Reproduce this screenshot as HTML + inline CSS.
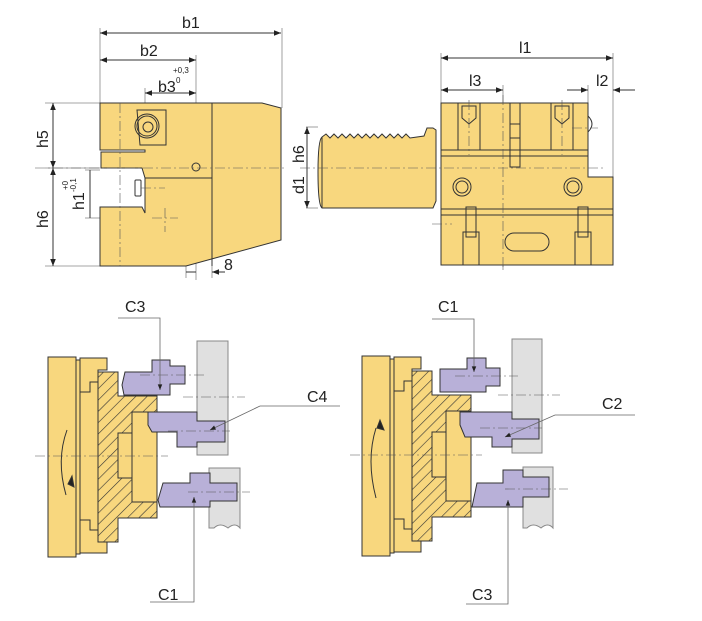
<!DOCTYPE html>
<html><head><meta charset="utf-8"><style>
html,body{margin:0;padding:0;background:#fff}
svg{display:block}
text{font-family:"Liberation Sans",Arial,sans-serif;fill:#222}
</style></head><body>
<svg width="702" height="621" viewBox="0 0 702 621" xmlns="http://www.w3.org/2000/svg">
<defs>
<pattern id="h" width="8" height="8" patternUnits="userSpaceOnUse" patternTransform="rotate(45)">
<rect width="8" height="8" fill="#f8d77e"/><line x1="0" y1="0" x2="0" y2="8" stroke="#333" stroke-width="1.2"/>
</pattern>
<marker id="a" viewBox="0 0 10 10" refX="10" refY="5" markerWidth="12" markerHeight="7" orient="auto-start-reverse"><path d="M0,1 L10,5 L0,9 z" fill="#222"/></marker>
</defs>
<g stroke="#333" stroke-width="1" fill="none">
<g stroke="#888" stroke-width="0.8">
<line x1="100" y1="28" x2="100" y2="103"/><line x1="282" y1="28" x2="282" y2="108"/>
<line x1="196" y1="55" x2="196" y2="280"/><line x1="145" y1="88" x2="145" y2="110"/>
<line x1="45" y1="103" x2="100" y2="103"/><line x1="45" y1="266" x2="100" y2="266"/>
<line x1="45" y1="168" x2="100" y2="168"/><line x1="85" y1="170" x2="100" y2="170"/><line x1="85" y1="218" x2="100" y2="218"/>
<line x1="186" y1="266" x2="186" y2="278"/><line x1="212" y1="266" x2="212" y2="278"/>
</g>
<line x1="100" y1="33" x2="281" y2="33" marker-start="url(#a)" marker-end="url(#a)"/>
<line x1="100" y1="60" x2="196" y2="60" marker-start="url(#a)" marker-end="url(#a)"/>
<line x1="145" y1="93" x2="196" y2="93" marker-start="url(#a)" marker-end="url(#a)"/>
<line x1="53" y1="103" x2="53" y2="168" marker-start="url(#a)" marker-end="url(#a)"/>
<line x1="53" y1="168" x2="53" y2="266" marker-start="url(#a)" marker-end="url(#a)"/>
<line x1="90" y1="170" x2="90" y2="218"/>
<line x1="186" y1="272" x2="196" y2="272"/><line x1="225" y1="272" x2="212" y2="272" marker-end="url(#a)"/>
<path d="M100,103 H262 L281,108 V240 L186,266 H100 V207 H142 L145,213 V178 L142,168 H101 V152 H145 V150 H100 Z" fill="#f8d77e"/>
<line x1="212" y1="103" x2="212" y2="266"/>
<line x1="145" y1="178" x2="212" y2="178"/>
<path d="M137,110 H166 V145 H140 Z"/>
<circle cx="147" cy="126" r="12"/><circle cx="147" cy="126" r="10"/><circle cx="148" cy="127" r="5"/>
<circle cx="196" cy="167" r="4"/>
<rect x="135" y="180" width="6" height="16" rx="1"/>
<g stroke="#555" stroke-width="0.6" stroke-dasharray="10,3,2,3">
<line x1="120" y1="103" x2="120" y2="266"/><line x1="35" y1="168" x2="285" y2="168"/>
<line x1="141" y1="188" x2="165" y2="188"/><line x1="152" y1="218" x2="178" y2="218"/><line x1="165" y1="208" x2="165" y2="232"/>
</g>
<g stroke="#888" stroke-width="0.8">
<line x1="441" y1="53" x2="441" y2="103"/><line x1="613" y1="53" x2="613" y2="177"/>
<line x1="503" y1="85" x2="503" y2="270"/><line x1="588" y1="85" x2="588" y2="103"/>
<line x1="306" y1="127" x2="318" y2="127"/><line x1="306" y1="208" x2="318" y2="208"/>
</g>
<line x1="441" y1="58" x2="613" y2="58" marker-start="url(#a)" marker-end="url(#a)"/>
<line x1="441" y1="90" x2="503" y2="90" marker-start="url(#a)" marker-end="url(#a)"/>
<line x1="567" y1="90" x2="588" y2="90" marker-end="url(#a)"/>
<line x1="635" y1="90" x2="613" y2="90" marker-end="url(#a)"/>
<line x1="307" y1="127" x2="307" y2="208" marker-start="url(#a)" marker-end="url(#a)"/>
<path d="M322,137 L326,134 L330,138 L334,134 L338,138 L342,134 L346,138 L350,134 L354,138 L358,134 L362,138 L366,134 L370,138 L374,134 L378,138 L382,134 L386,138 L390,134 L394,138 L398,134 L402,138 L406,134 L410,138 L424,136 L427,128 L433,128 L436,130 V201 L433,208 H322 Q318,205 318,172 Q318,140 322,137 Z" fill="#f8d77e"/>
<line x1="322" y1="137" x2="322" y2="208"/>
<path d="M441,103 H588 V177 H613 V265 H441 Z" fill="#f8d77e"/>
<line x1="441" y1="150" x2="588" y2="150"/><line x1="441" y1="156" x2="588" y2="156"/>
<line x1="441" y1="209" x2="613" y2="209"/><line x1="441" y1="215" x2="613" y2="215"/>
<rect x="458" y="103" width="22" height="47"/><path d="M462,106 H476 V118 L469,124 L462,118 Z"/>
<rect x="551" y="103" width="22" height="47"/><path d="M555,106 H569 V118 L562,124 L555,118 Z"/>
<rect x="510" y="103" width="10" height="64"/><rect x="510" y="124" width="10" height="14"/>
<path d="M588,116 Q596,124 588,132"/>
<circle cx="462" cy="187" r="9"/><circle cx="462" cy="187" r="6"/>
<circle cx="573" cy="187" r="9"/><circle cx="573" cy="187" r="6"/>
<rect x="466" y="207" width="10" height="30"/><rect x="463" y="232" width="16" height="33"/>
<rect x="578" y="207" width="10" height="30"/><rect x="575" y="232" width="16" height="33"/>
<rect x="505" y="233" width="44" height="18" rx="9"/>
<g stroke="#555" stroke-width="0.6" stroke-dasharray="10,3,2,3">
<line x1="300" y1="168" x2="605" y2="168"/><line x1="503" y1="95" x2="503" y2="270"/>
<line x1="432" y1="224" x2="452" y2="224"/><line x1="572" y1="128" x2="598" y2="128"/>
<line x1="469" y1="100" x2="469" y2="155"/><line x1="562" y1="100" x2="562" y2="155"/>
</g>
<g id="chuck">
<rect x="48" y="357" width="28" height="200" fill="#f8d77e"/>
<rect x="76" y="360" width="4" height="194" fill="#f8d77e"/>
<path d="M80,358 H107 V370 H98 V540 H107 V553 H80 Z" fill="#f8d77e"/>
<path d="M80,392 H90 V382 H98 M80,520 H90 V530 H98"/>
<path d="M98,372 H118 V396 H157 V518 H118 V542 H98 Z" fill="url(#h)"/>
<path d="M132,412 H157 V502 H132 V478 H118 V433 H132 Z" fill="#f8d77e"/>
<line x1="132" y1="433" x2="132" y2="478"/>
</g>
<use href="#chuck" x="314" y="-1"/>
<path d="M67,430 Q56,460 66,495" stroke="#333"/><path d="M68,484 L72,476 L74,487 Z" fill="#222"/>
<path d="M376,428 Q366,460 376,498" stroke="#333"/><path d="M380,420 L384,430 L377,428 Z" fill="#222"/>
<g fill="#e0e0e0" stroke="#888">
<rect x="197" y="341" width="31" height="114"/>
<path d="M209,468 H240 V528 Q235,522 228,528 Q220,522 214,528 H209 Z"/>
<rect x="512" y="339" width="30" height="114"/>
<path d="M523,467 H553 V528 Q548,522 541,528 Q533,522 527,528 H523 Z"/>
</g>
<g fill="#b8b0d8" stroke="#333">
<path d="M125,372 H152 V360 H170 V366 H185 V384 H170 V395 H124 L122,385 Z"/>
<path d="M148,412 H197 V421 H225 V442 H197 V447 H177 V432 H152 L148,425 Z"/>
<path d="M163,483 H190 V473 H210 V483 H237 V501 H210 V507 H160 L158,500 Z"/>
<path d="M440,369 H467 V358 H486 V368 H500 V386 H486 V392 H440 Z"/>
<path d="M460,412 H512 V419 H539 V439 H512 V447 H492 V437 H465 L460,425 Z"/>
<path d="M477,483 H503 V470 H523 V477 H549 V497 H523 V507 H472 Z"/>
</g>
<g stroke="#555" stroke-width="0.6" stroke-dasharray="10,3,2,3">
<line x1="35" y1="456" x2="168" y2="456"/><line x1="350" y1="455" x2="482" y2="455"/>
<line x1="140" y1="375" x2="205" y2="375"/><line x1="183" y1="397" x2="245" y2="397"/>
<line x1="168" y1="431" x2="230" y2="431"/><line x1="188" y1="492" x2="250" y2="492"/>
<line x1="455" y1="376" x2="518" y2="376"/><line x1="498" y1="395" x2="560" y2="395"/>
<line x1="480" y1="428" x2="542" y2="428"/><line x1="505" y1="489" x2="568" y2="489"/>
</g>
<g stroke="#666" stroke-width="0.8">
<path d="M118,318 H160 V390" marker-end="url(#a)"/>
<path d="M340,406 H260 L210,430" marker-end="url(#a)"/>
<path d="M150,602 H194 V497" marker-end="url(#a)"/>
<path d="M432,319 H474 V372" marker-end="url(#a)"/>
<path d="M635,415 H555 L505,437" marker-end="url(#a)"/>
<path d="M466,604 H508 V500" marker-end="url(#a)"/>
</g>
</g>
<g font-size="16">
<text x="182" y="28">b1</text><text x="140" y="56">b2</text><text x="158" y="92">b3</text>
<text x="224" y="270">8</text>
<text x="519" y="53">l1</text><text x="469" y="86">l3</text><text x="596" y="86">l2</text>
<text transform="translate(48,148) rotate(-90)">h5</text>
<text transform="translate(48,228) rotate(-90)">h6</text>
<text transform="translate(84,210) rotate(-90)">h1</text>
<text transform="translate(304,163) rotate(-90)">h6</text>
<text transform="translate(304,194) rotate(-90)">d1</text>
<text x="125" y="312">C3</text><text x="307" y="402">C4</text><text x="158" y="600">C1</text>
<text x="438" y="312">C1</text><text x="602" y="409">C2</text><text x="472" y="600">C3</text>
</g>
<g font-size="8">
<text x="173" y="73">+0,3</text><text x="176" y="83">0</text>
<text transform="translate(68,190) rotate(-90)">+0</text>
<text transform="translate(76,192) rotate(-90)">-0,1</text>
</g>
</svg>
</body></html>
